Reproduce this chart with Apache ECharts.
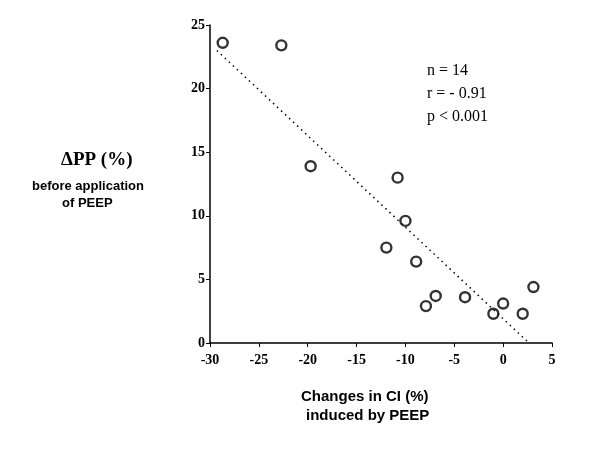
<!DOCTYPE html>
<html><head><meta charset="utf-8">
<script src="https://cdn.jsdelivr.net/npm/echarts@6/dist/echarts.min.js"></script>
<style>html,body{margin:0;padding:0;background:#fff}#c{width:600px;height:461px}</style>
</head><body><div id="c"></div>
<script>
const changeCI = [-28.7, -22.7, -19.7, -10.8, -10.0, -11.95, -8.9, -6.9, -7.9, -3.9, -1.0, 0.0, 2.0, 3.1];
const deltaPP  = [23.6, 23.4, 13.9, 13.0, 9.6, 7.5, 6.4, 3.7, 2.9, 3.6, 2.3, 3.1, 2.3, 4.4];
const fitX = [-29.3, 2.65];
const fitY = [23.0, 0];
const xTicks = [-30, -25, -20, -15, -10, -5, 0, 5];
const yTicks = [0, 5, 10, 15, 20, 25];
const statLines = ['n = 14', 'r = - 0.91', 'p < 0.001'];

const chart = echarts.init(document.getElementById('c'));
const tickFont = {fontFamily: 'Liberation Serif', fontWeight: 'bold', fontSize: 14, color: '#000'};
chart.setOption({
  animation: false,
  grid: {left: 210, right: 48, top: 25, bottom: 118},
  xAxis: {
    type: 'value', min: xTicks[0], max: xTicks[xTicks.length-1], interval: 5,
    axisLine: {onZero: false, lineStyle: {color: '#000', width: 1.5}},
    axisTick: {show: true, length: 4, lineStyle: {color: '#000'}},
    splitLine: {show: false},
    axisLabel: Object.assign({margin: 10}, tickFont)
  },
  yAxis: {
    type: 'value', min: yTicks[0], max: yTicks[yTicks.length-1], interval: 5,
    axisLine: {show: true, onZero: false, lineStyle: {color: '#000', width: 1.5}},
    axisTick: {show: true, length: 4, lineStyle: {color: '#000'}},
    splitLine: {show: false},
    axisLabel: Object.assign({margin: 5}, tickFont)
  },
  series: [
    {
      type: 'line', data: fitX.map((x, i) => [x, fitY[i]]), symbol: 'none',
      lineStyle: {color: '#000', width: 1.5, type: [1.5, 4]}
    },
    {
      type: 'scatter', data: changeCI.map((x, i) => [x, deltaPP[i]]),
      symbol: 'circle', symbolSize: 10,
      itemStyle: {color: '#fff', borderColor: '#000', borderWidth: 2.4}
    }
  ],
  graphic: [
    {type: 'text', left: 61, top: 151, style: {text: 'ΔPP (%)', font: 'bold 19px "Liberation Serif"', fill: '#000'}},
    {type: 'text', left: 32, top: 180, style: {text: 'before application', font: 'bold 13px "Liberation Sans"', fill: '#000'}},
    {type: 'text', left: 62, top: 197, style: {text: 'of PEEP', font: 'bold 13px "Liberation Sans"', fill: '#000'}},
    {type: 'text', left: 301, top: 389, style: {text: 'Changes in CI (%)', font: 'bold 15px "Liberation Sans"', fill: '#000'}},
    {type: 'text', left: 306, top: 408, style: {text: 'induced by PEEP', font: 'bold 15px "Liberation Sans"', fill: '#000'}},
    {type: 'text', left: 427, top: 63, style: {text: statLines[0], font: '16px "Liberation Serif"', fill: '#000'}},
    {type: 'text', left: 427, top: 86, style: {text: statLines[1], font: '16px "Liberation Serif"', fill: '#000'}},
    {type: 'text', left: 427, top: 109, style: {text: statLines[2], font: '16px "Liberation Serif"', fill: '#000'}}
  ]
});
</script></body></html>
